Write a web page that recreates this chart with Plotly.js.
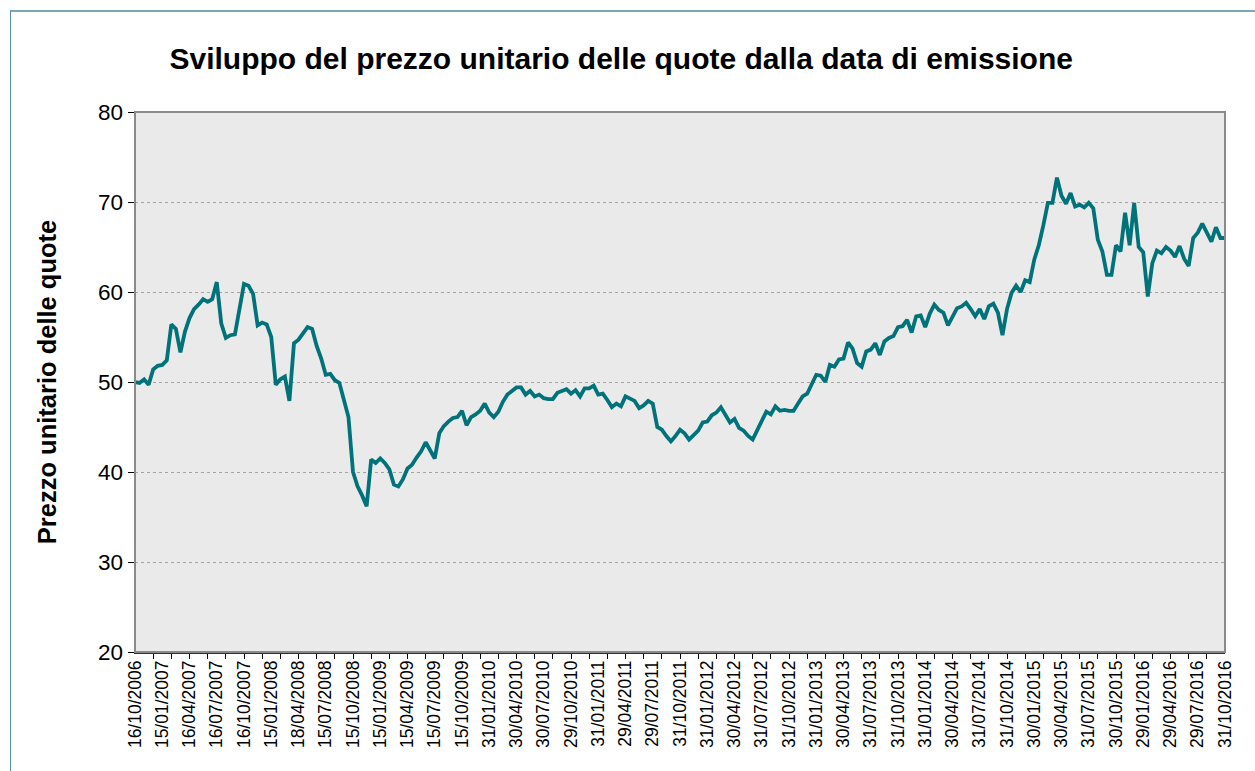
<!DOCTYPE html>
<html>
<head>
<meta charset="utf-8">
<script src="https://cdn.plot.ly/plotly-3.0.1.min.js"></script>
<style>
  html, body { margin: 0; padding: 0; background: #ffffff; }
  #wrap { position: relative; width: 1255px; height: 771px; overflow: hidden; }
  #chart { position: absolute; left: 0; top: 0; width: 1255px; height: 771px; }
  #frame { position: absolute; left: 10px; top: 10px; width: 1400px; height: 900px;
           border-left: 1px solid #4f93a3; border-top: 2px solid #7aa9b6; pointer-events: none; }
</style>
</head>
<body>
<div id="wrap">
  <div id="chart"></div>
  <div id="frame"></div>
</div>
<script>
// Tick labels (one every 6 observations)
const tickLabels = [
  "16/10/2006","15/01/2007","16/04/2007","16/07/2007","16/10/2007","15/01/2008",
  "18/04/2008","15/07/2008","15/10/2008","15/01/2009","15/04/2009","15/07/2009",
  "15/10/2009","31/01/2010","30/04/2010","30/07/2010","29/10/2010","31/01/2011",
  "29/04/2011","29/07/2011","31/10/2011","31/01/2012","30/04/2012","31/07/2012",
  "31/10/2012","31/01/2013","30/04/2013","31/07/2013","31/10/2013","31/01/2014",
  "30/04/2014","31/07/2014","31/10/2014","30/01/2015","30/04/2015","31/07/2015",
  "30/10/2015","29/01/2016","29/04/2016","29/07/2016","31/10/2016"
];

const prices = [
  50.0, 49.9, 50.3, 49.7, 51.4, 51.8, 51.9, 52.4, 56.4, 55.9,
  53.3, 55.6, 57.1, 58.1, 58.6, 59.2, 58.9, 59.2, 61.1, 56.5,
  54.9, 55.2, 55.3, 58.0, 60.9, 60.7, 59.8, 56.3, 56.6, 56.4,
  55.0, 49.7, 50.3, 50.6, 47.9, 54.3, 54.7, 55.4, 56.1, 55.9,
  54.0, 52.6, 50.8, 50.9, 50.2, 49.9, 48.0, 46.1, 40.0, 38.4,
  37.4, 36.2, 41.4, 41.0, 41.5, 41.0, 40.3, 38.6, 38.4, 39.2,
  40.4, 40.8, 41.6, 42.3, 43.3, 42.3, 41.5, 44.3, 45.1, 45.6,
  46.0, 46.1, 46.8, 45.2, 46.1, 46.4, 46.8, 47.6, 46.6, 46.1,
  46.7, 47.8, 48.6, 49.0, 49.4, 49.4, 48.6, 49.0, 48.4, 48.6,
  48.2, 48.1, 48.1, 48.8, 49.0, 49.2, 48.7, 49.1, 48.4, 49.3,
  49.3, 49.6, 48.6, 48.7, 48.0, 47.2, 47.6, 47.3, 48.4, 48.1,
  47.9, 47.1, 47.4, 47.9, 47.6, 45.0, 44.7, 44.0, 43.4, 44.0,
  44.7, 44.3, 43.6, 44.1, 44.6, 45.5, 45.6, 46.3, 46.6, 47.2,
  46.4, 45.5, 45.9, 44.9, 44.6, 44.0, 43.6, 44.7, 45.8, 46.7,
  46.4, 47.3, 46.8, 46.9, 46.8, 46.8, 47.6, 48.4, 48.7, 49.8,
  50.8, 50.7, 50.0, 51.9, 51.7, 52.5, 52.6, 54.4, 53.7, 52.1,
  51.7, 53.4, 53.6, 54.3, 53.0, 54.5, 54.9, 55.1, 56.1, 56.2,
  56.9, 55.5, 57.3, 57.4, 56.1, 57.6, 58.6, 58.0, 57.7, 56.3,
  57.3, 58.2, 58.4, 58.8, 58.1, 57.3, 58.1, 57.0, 58.4, 58.7,
  57.7, 55.2, 58.1, 59.9, 60.7, 60.0, 61.3, 61.1, 63.6, 65.2,
  67.4, 69.9, 69.9, 72.7, 70.7, 69.8, 71.0, 69.5, 69.7, 69.4,
  69.9, 69.3, 65.8, 64.5, 61.9, 61.9, 65.2, 64.5, 68.8, 65.2,
  69.9, 65.0, 64.4, 59.5, 63.2, 64.6, 64.3, 65.0, 64.6, 63.9,
  65.1, 63.7, 62.9, 66.0, 66.6, 67.6, 66.6, 65.6, 67.2, 66.0,
  66.0
];

const LABEL_EVERY = 6;
const TICK_EVERY = 4;

const xIdx = prices.map((_, i) => i);
const tickVals = tickLabels.map((_, k) => k * LABEL_EVERY);

const FONT = "Liberation Sans, Arial, Helvetica, sans-serif";

const trace = {
  type: "scatter",
  mode: "lines",
  x: xIdx,
  y: prices,
  line: { color: "#00727a", width: 3.8 },
  hoverinfo: "y"
};

const layout = {
  width: 1255,
  height: 771,
  paper_bgcolor: "#ffffff",
  plot_bgcolor: "#eaeaea",
  margin: { l: 135, r: 30, t: 112, b: 119 },
  showlegend: false,
  title: {
    text: "<b>Sviluppo del prezzo unitario delle quote dalla data di emissione</b>",
    font: { family: FONT, size: 30, color: "#000000" },
    x: 0.495, xref: "container", xanchor: "center",
    y: 1 - 58 / 771, yref: "container", yanchor: "middle"
  },
  xaxis: {
    range: [0, prices.length - 1],
    tickmode: "array",
    tickvals: tickVals,
    ticktext: tickLabels,
    tickangle: -90,
    ticks: "inside",
    ticklen: 0,
    tickfont: { family: FONT, size: 17.5, color: "#000000" },
    minor: { tickmode: "linear", tick0: 0, dtick: TICK_EVERY, ticks: "outside",
             ticklen: 5, tickcolor: "#000000", tickwidth: 1, showgrid: false },
    showgrid: false,
    zeroline: false,
    showline: true,
    linecolor: "#303030",
    linewidth: 1.5,
    mirror: false
  },
  yaxis: {
    range: [20, 80],
    tickmode: "linear",
    tick0: 20,
    dtick: 10,
    ticks: "outside",
    ticklen: 6,
    tickcolor: "#000000",
    tickfont: { family: FONT, size: 22.5, color: "#000000" },
    showgrid: true,
    gridcolor: "#a3a3a3",
    griddash: "dot",
    gridwidth: 1,
    zeroline: false,
    showline: true,
    linecolor: "#303030",
    linewidth: 1.5,
    title: {
      text: "<b>Prezzo unitario delle quote</b>",
      font: { family: FONT, size: 25.5, color: "#000000" },
      standoff: 34
    }
  },
  shapes: [
    { type: "rect", xref: "paper", yref: "paper", x0: 0, x1: 1, y0: 0, y1: 1,
      line: { color: "#8a8a8a", width: 2 }, fillcolor: "rgba(0,0,0,0)", layer: "above" }
  ]
};

Plotly.newPlot("chart", [trace], layout, { displayModeBar: false, staticPlot: true });
</script>
</body>
</html>
